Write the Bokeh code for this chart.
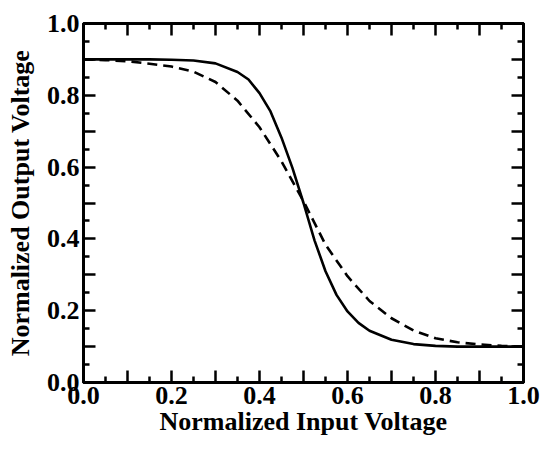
from bokeh.plotting import figure
from bokeh.models import Range1d, LinearAxis, FixedTicker, CustomJSTickFormatter
from bokeh.embed import file_html
from bokeh.resources import INLINE

# ---- data ----
solid_x = [0.00, 0.05, 0.10, 0.15, 0.20, 0.25, 0.30, 0.35, 0.375, 0.40, 0.425, 0.45,
           0.475, 0.50, 0.525, 0.55, 0.575, 0.60, 0.625, 0.65, 0.70, 0.75, 0.80, 0.85,
           0.90, 1.00]
solid_y = [0.900, 0.900, 0.900, 0.900, 0.899, 0.897, 0.889, 0.865, 0.844, 0.806, 0.755,
           0.682, 0.597, 0.500, 0.396, 0.310, 0.244, 0.198, 0.166, 0.144, 0.119, 0.107,
           0.102, 0.100, 0.100, 0.100]

dashed_x = [0.00, 0.05, 0.10, 0.15, 0.20, 0.25, 0.30, 0.35, 0.40, 0.45, 0.50, 0.55,
            0.60, 0.65, 0.70, 0.75, 0.80, 0.85, 0.90, 0.95, 1.00]
dashed_y = [0.900, 0.898, 0.895, 0.888, 0.880, 0.866, 0.837, 0.785, 0.711, 0.616, 0.505,
            0.384, 0.296, 0.227, 0.179, 0.145, 0.123, 0.112, 0.106, 0.102, 0.100]

major_ticks = [0.0, 0.1, 0.2, 0.3, 0.4, 0.5, 0.6, 0.7, 0.8, 0.9, 1.0]
minor_ticks = [0.05, 0.15, 0.25, 0.35, 0.45, 0.55, 0.65, 0.75, 0.85, 0.95]

x_title = "Normalized Input Voltage"
y_title = "Normalized Output Voltage"

FONT = "Liberation Serif"

p = figure(width=540, height=444, output_backend="svg", toolbar_location=None,
           x_range=Range1d(0, 1), y_range=Range1d(0, 1),
           x_axis_type=None, y_axis_type=None)
p.min_border_left = 83
p.min_border_right = 17
p.min_border_top = 23
p.min_border_bottom = 62
p.background_fill_color = "white"
p.border_fill_color = "white"
p.outline_line_color = "black"
p.outline_line_width = 3
p.xgrid.visible = False
p.ygrid.visible = False

label_code = """
const k = Math.round(tick * 10);
return (k % 2 == 0) ? tick.toFixed(1) : "";
"""
blank_code = 'return "";'


def make_axis(labelled, title=None, label_standoff=0):
    ax = LinearAxis(ticker=FixedTicker(ticks=major_ticks, minor_ticks=minor_ticks))
    ax.axis_line_color = "black"
    ax.axis_line_width = 3
    ax.major_tick_in = 12
    ax.major_tick_out = 0
    ax.minor_tick_in = 6
    ax.minor_tick_out = 0
    ax.major_tick_line_width = 2.5
    ax.minor_tick_line_width = 2.5
    ax.major_tick_line_color = "black"
    ax.minor_tick_line_color = "black"
    if labelled:
        ax.formatter = CustomJSTickFormatter(code=label_code)
        ax.major_label_text_font = FONT
        ax.major_label_text_font_style = "bold"
        ax.major_label_text_font_size = "26px"
        ax.major_label_text_color = "black"
        ax.major_label_standoff = 4
        ax.axis_label = title
        ax.axis_label_text_font = FONT
        ax.axis_label_text_font_style = "bold"
        ax.axis_label_text_font_size = "26px"
        ax.axis_label_text_color = "black"
        ax.axis_label_standoff = label_standoff
    else:
        ax.formatter = CustomJSTickFormatter(code=blank_code)
        ax.major_label_standoff = 0
        ax.major_label_text_font_size = "1px"
    return ax


p.add_layout(make_axis(True, x_title, 0), "below")
p.add_layout(make_axis(True, y_title, 9), "left")
p.add_layout(make_axis(False), "above")
p.add_layout(make_axis(False), "right")

p.line(solid_x, solid_y, line_color="black", line_width=2.6)
p.line(dashed_x, dashed_y, line_color="black", line_width=2.6, line_dash="10 6")

open("out.html", "w").write(file_html(p, INLINE))
